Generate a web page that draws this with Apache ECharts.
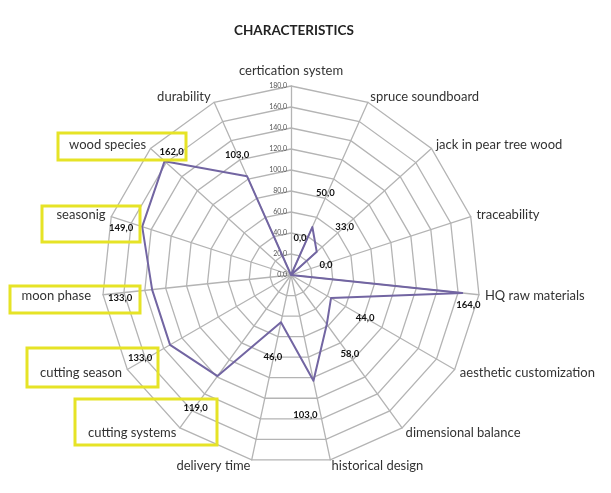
<!doctype html>
<html>
<head>
<meta charset="UTF-8">
<title>Characteristics</title>
<script src="https://cdn.jsdelivr.net/npm/echarts@6/dist/echarts.min.js"></script>
<style>
  html, body { margin: 0; padding: 0; background: #fff; }
  #chart { width: 611px; height: 493px; }
</style>
</head>
<body>
<div id="chart"></div>
<script>
// axis names, clockwise from the top
var names = ['certication system', 'spruce soundboard', 'jack in pear tree wood', 'traceability',
  'HQ raw materials', 'aesthetic customization', 'dimensional balance', 'historical design',
  'delivery time', 'cutting systems', 'cutting season', 'moon phase', 'seasonig',
  'wood species', 'durability'];
var values = [0, 50, 33, 0, 164, 44, 58, 103, 46, 119, 133, 133, 149, 162, 103];
var scaleMax = 180;
var scaleStep = 20;

// where each value label sits relative to its point (px), same order as names
var labelShift = [[9, -37], [13, -34], [28, -25], [35, -10], [6, 12], [34, 20], [23, 30],
  [-8, 34], [-8, 35], [-22, 32], [-30, 13], [-32, 8], [-21, 1], [7, -9], [-10, -21]];

// small nudges for a few axis names: [top, right, bottom, left] padding
var namePad = {
  'durability': [0, 1, 0, 0],
  'moon phase': [0, 6, 0, 0],
  'certication system': [0, 0, 3, 0]
};

var fontFam = 'Lato, "Open Sans", sans-serif';
var cx = 291, cy = 275, R = 189;

// echarts radar runs counter-clockwise, so keep the first axis and reverse the rest
function cw(arr) { return [arr[0]].concat(arr.slice(1).reverse()); }
var cwValues = cw(values);
var cwShift = cw(labelShift);

var chart = echarts.init(document.getElementById('chart'));

function fmt(v) { return Number(v).toFixed(1).replace('.', ','); }

// yellow highlight boxes (annotation only)
var boxRects = [
  [58, 133, 128, 27],
  [42, 206, 98, 36],
  [10, 286, 130, 27],
  [27, 348, 131, 39],
  [75, 399, 142, 46]
];

var series = [{
  type: 'radar',
  symbol: 'none',
  lineStyle: { color: '#7265a2', width: 2 },
  data: [{ value: cwValues }],
  z: 3
}];

// one invisible series per axis, only to carry that axis's value label
cwValues.forEach(function (v, i) {
  series.push({
    type: 'radar',
    symbol: 'circle',
    symbolSize: 0.01,
    itemStyle: { color: 'transparent' },
    lineStyle: { width: 0, opacity: 0 },
    silent: true,
    z: 4,
    label: {
      show: true, position: 'inside', offset: cwShift[i],
      color: '#111', fontSize: 9.5, fontWeight: 'bold', fontFamily: fontFam,
      formatter: function (p) { return p.dimensionIndex === i ? fmt(p.value) : ''; }
    },
    data: [{ value: cwValues }]
  });
});

var rich = {};
Object.keys(namePad).forEach(function (n, k) {
  rich['p' + k] = { padding: namePad[n], color: '#333', fontFamily: fontFam, fontSize: 13 };
});

chart.setOption({
  title: {
    text: 'CHARACTERISTICS',
    left: 229, top: 19,
    textStyle: { fontFamily: fontFam, fontSize: 13.5, fontWeight: 'bold', color: '#222' }
  },
  radar: {
    center: [cx, cy],
    radius: R,
    shape: 'polygon',
    startAngle: 90,
    splitNumber: scaleMax / scaleStep,
    indicator: cw(names).map(function (n) { return { name: n, min: 0, max: scaleMax }; }),
    axisName: {
      color: '#333', fontFamily: fontFam, fontSize: 13, rich: rich,
      formatter: function (n) {
        var k = Object.keys(namePad).indexOf(n);
        return k < 0 ? n : '{p' + k + '|' + n + '}';
      }
    },
    nameGap: 6,
    axisLine: { lineStyle: { color: '#b4b4b4', width: 1.3 } },
    splitLine: { lineStyle: { color: '#b4b4b4', width: 1.3 } },
    splitArea: { show: false },
    axisTick: { show: false },
    axisLabel: { show: false }
  },
  polar: { center: [cx, cy], radius: R },
  angleAxis: { show: false, startAngle: 90, min: 0, max: 360 },
  radiusAxis: {
    min: 0, max: scaleMax, interval: scaleStep,
    axisLine: { show: false }, axisTick: { show: false }, splitLine: { show: false },
    axisLabel: {
      show: true, inside: true, color: '#555', fontSize: 7, fontFamily: fontFam, margin: 4,
      formatter: function (v) { return fmt(v); }
    }
  },
  graphic: boxRects.map(function (b) {
    return {
      type: 'rect', z: 100, silent: true,
      shape: { x: b[0], y: b[1], width: b[2], height: b[3] },
      style: { fill: 'none', stroke: '#e6e326', lineWidth: 3 }
    };
  }),
  series: series
});
</script>
</body>
</html>
